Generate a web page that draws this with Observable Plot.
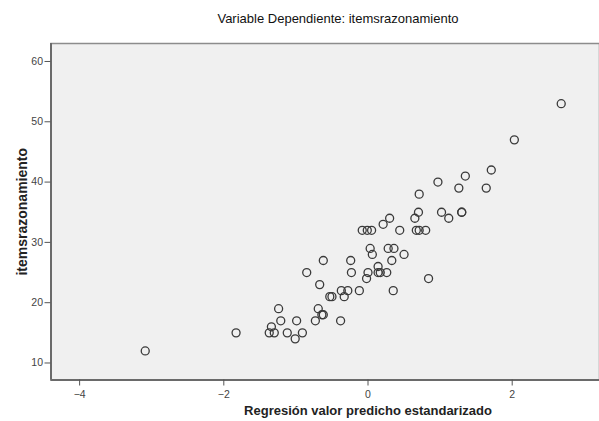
<!DOCTYPE html>
<html>
<head>
<meta charset="utf-8">
<script src="https://cdn.jsdelivr.net/npm/d3@7"></script>
<script src="https://cdn.jsdelivr.net/npm/@observablehq/plot@0.6"></script>
<style>
  html, body { margin: 0; padding: 0; background: #ffffff; }
  #title { width: 599px; height: 34px; box-sizing: border-box; padding-left: 77px; text-align: center;
           font-family: "Liberation Sans", Arial, sans-serif; font-size: 13px; line-height: 38px; color: #111; }
</style>
</head>
<body>
<div id="title"></div>
<div id="chart"></div>
<script>
const titleText = "Variable Dependiente: itemsrazonamiento";
const xLabel = "Regresión valor predicho estandarizado";
const yLabel = "itemsrazonamiento";
const xTicks = [-4, -2, 0, 2];
const yTicks = [10, 20, 30, 40, 50, 60];

// standardized predicted value
const predicted = [
  -3.09, -1.83, -1.24, -1.21, -1.34, -1.37, -1.30, -1.12, -0.91, -1.01,
  -0.99, -0.73, -0.38, -0.69, -0.64, -0.62, -0.53, -0.50, -0.33, -0.37,
  -0.28, -0.12, 0.35, -0.67, -0.02, 0.84, -0.85, -0.23, 0.00, 0.14,
  0.17, 0.26, 0.14, -0.62, -0.24, 0.33, 0.06, 0.50, 0.03, 0.28,
  0.36, -0.08, -0.01, 0.05, 0.44, 0.67, 0.71, 0.80, 0.21, 0.30,
  0.65, 1.12, 0.70, 1.02, 1.30, 1.30, 0.71, 1.26, 1.64, 0.97,
  1.35, 1.71, 2.03, 2.68
];
// itemsrazonamiento
const observed = [
  12, 15, 19, 17, 16, 15, 15, 15, 15, 14,
  17, 17, 17, 19, 18, 18, 21, 21, 21, 22,
  22, 22, 22, 23, 24, 24, 25, 25, 25, 25,
  25, 25, 26, 27, 27, 27, 28, 28, 29, 29,
  29, 32, 32, 32, 32, 32, 32, 32, 33, 34,
  34, 34, 35, 35, 35, 35, 38, 39, 39, 40,
  41, 42, 47, 53
];

const data = predicted.map((x, i) => ({x, y: observed[i]}));
const xDomain = [-4.397, 3.211];
const yDomain = [7.18, 62.98];

document.getElementById("title").textContent = titleText;

const chart = Plot.plot({
  width: 599,
  height: 387,
  marginTop: 9,
  marginBottom: 41.5,
  marginLeft: 50.5,
  marginRight: 0,
  style: {fontFamily: "'Liberation Sans', Arial, sans-serif", fontSize: "10.5px", color: "#444", background: "#ffffff"},
  x: {domain: xDomain},
  y: {domain: yDomain},
  marks: [
    Plot.frame({fill: "#f0f0f0", stroke: "#8c8c8c", strokeWidth: 1.5}),
    Plot.ruleX([xDomain[0]], {stroke: "#6a6a6a", strokeWidth: 2}),
    Plot.ruleY([yDomain[0]], {stroke: "#6a6a6a", strokeWidth: 2}),
    Plot.axisY({ticks: yTicks, tickSize: 6, tickPadding: 2, label: null, stroke: "#555"}),
    Plot.axisX({ticks: xTicks, tickSize: 6, tickPadding: 5, label: null, stroke: "#555"}),
    Plot.dot(data, {x: "x", y: "y", r: 4, stroke: "#3a3a3a", strokeWidth: 1.3, fill: "none"}),
    Plot.text([yLabel], {frameAnchor: "left", textAnchor: "middle", rotate: -90, dx: -28.5, fontWeight: "bold", fontSize: 14, fill: "#222", text: d => d}),
    Plot.text([xLabel], {x: () => 0, frameAnchor: "bottom", dy: 35, fontWeight: "bold", fontSize: 13, fill: "#222", text: d => d})
  ]
});
document.getElementById("chart").appendChild(chart);
</script>
</body>
</html>
